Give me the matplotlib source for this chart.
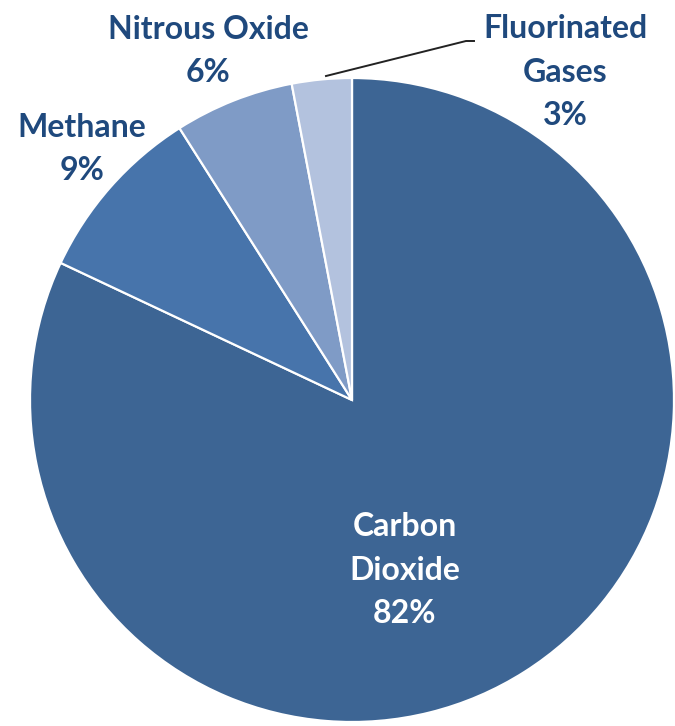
import matplotlib
matplotlib.use("Agg")
import matplotlib.pyplot as plt

categories = ["Carbon\nDioxide", "Methane", "Nitrous Oxide", "Fluorinated\nGases"]
values = [82, 9, 6, 3]
colors = ["#3D6594", "#4774AB", "#7F9BC6", "#B3C2DE"]

W, H = 675, 726
fig = plt.figure(figsize=(W / 100, H / 100), dpi=100)
ax = fig.add_axes([0, 0, 1, 1])

cx, cy, r = 352, H - 400, 322
ax.pie(values, colors=colors, startangle=90, counterclock=False,
       center=(cx, cy), radius=r, frame=True,
       wedgeprops=dict(edgecolor="white", linewidth=1.6))
ax.set_xlim(0, W)
ax.set_ylim(0, H)
ax.set_aspect("equal")
ax.axis("off")

font = dict(family=["Lato", "DejaVu Sans"], fontweight="bold", fontsize=23,
            ha="center", va="center", linespacing=1.62)
txt = "#1F497D"
# label positions in pixel coords (x, y from top)
pos = [(405, 570), (82, 149), (208, 51), (565, 72)]
for i, (lab, v) in enumerate(zip(categories, values)):
    x, y = pos[i]
    col = "white" if i == 0 else txt
    ax.text(x, H - y, f"{lab}\n{v}%", color=col, **font)

# leader line for Fluorinated Gases
ax.plot([326, 466, 474], [H - 76, H - 41, H - 41], color="#222222", lw=1.4)

fig.savefig("out.png", dpi=100)
